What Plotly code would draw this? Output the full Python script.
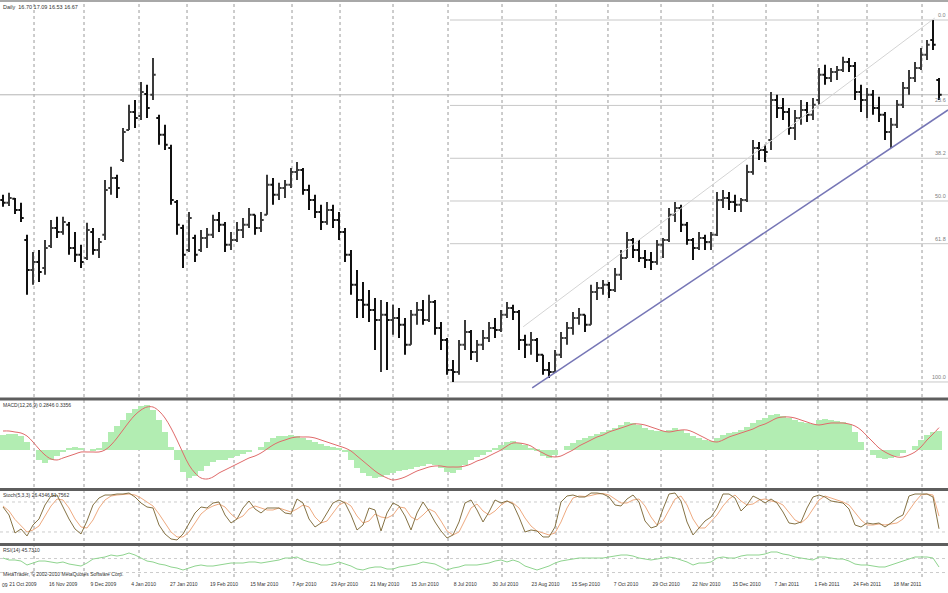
import plotly.graph_objects as go

# ---------------- data ----------------
opens = [14.00, 13.93, 14.03, 13.75, 13.00, 12.25, 12.45, 12.30, 12.85, 13.30, 13.20, 13.38, 12.80, 12.63, 12.55, 13.20, 12.75, 13.13, 14.30, 14.55,
         15.00, 15.75, 16.20, 16.10, 16.65, 16.63, 16.05, 15.63, 15.30, 13.95, 13.30, 12.75, 13.05, 12.75, 13.05, 13.13, 13.50, 13.38, 12.88, 13.00,
         13.25, 13.38, 13.63, 13.30, 13.63, 14.38, 14.13, 14.30, 14.38, 14.70, 14.75, 14.25, 14.00, 13.70, 13.45, 13.75, 13.50, 13.20, 12.63, 11.88,
         11.50, 11.38, 11.25, 11.00, 11.13, 11.00, 11.05, 10.88, 10.38, 11.13, 11.25, 11.00, 11.45, 10.80, 10.50, 9.75, 9.70, 10.38, 10.70, 10.20,
         10.38, 10.55, 10.80, 10.75, 11.13, 11.30, 11.20, 10.50, 10.38, 10.50, 10.13, 9.75, 9.70, 10.13, 10.55, 10.80, 11.05, 11.13, 10.88, 11.70,
         11.80, 11.88, 11.75, 12.13, 12.55, 13.00, 12.75, 12.55, 12.50, 12.45, 12.88, 13.00, 13.63, 13.80, 13.38, 13.00, 12.80, 13.05, 12.95, 13.13,
         14.00, 14.05, 13.95, 13.88, 14.00, 14.70, 15.30, 15.25, 15.50, 16.50, 16.30, 16.20, 15.80, 16.05, 16.25, 16.13, 16.50, 17.13, 17.05, 17.20,
         17.25, 17.45, 17.35, 16.70, 16.50, 16.63, 16.30, 16.13, 15.70, 15.88, 16.38, 16.80, 17.05, 17.30, 17.63, 18.00, 17.00]
highs = [14.13, 14.18, 14.05, 13.93, 13.13, 12.70, 12.75, 13.00, 13.50, 13.58, 13.58, 13.45, 13.20, 12.88, 13.43, 13.30, 13.05, 14.50, 14.83, 14.63,
         15.80, 16.38, 16.50, 16.95, 16.88, 17.55, 16.13, 15.88, 15.38, 14.00, 13.38, 13.70, 13.13, 13.25, 13.30, 13.63, 13.70, 13.45, 13.20, 13.45,
         13.55, 13.80, 13.63, 13.70, 14.63, 14.55, 14.43, 14.50, 14.80, 14.95, 14.80, 14.38, 14.13, 13.88, 13.95, 13.88, 13.70, 13.30, 12.75, 12.25,
         11.95, 11.75, 11.55, 11.50, 11.45, 11.38, 11.30, 11.05, 11.25, 11.45, 11.50, 11.63, 11.50, 10.95, 10.55, 10.00, 10.50, 11.00, 10.75, 10.50,
         10.75, 10.95, 11.05, 11.25, 11.45, 11.38, 11.25, 10.63, 10.70, 10.55, 10.13, 9.95, 10.25, 10.70, 10.95, 11.20, 11.30, 11.13, 11.88, 11.95,
         12.00, 11.95, 12.30, 12.75, 13.20, 13.05, 13.00, 12.75, 12.70, 13.00, 13.05, 13.80, 13.95, 13.88, 13.45, 13.05, 13.20, 13.13, 13.20, 14.20,
         14.25, 14.20, 14.13, 14.05, 14.88, 15.50, 15.45, 15.38, 16.70, 16.63, 16.55, 16.30, 16.25, 16.50, 16.45, 16.55, 17.30, 17.38, 17.30, 17.35,
         17.58, 17.55, 17.45, 16.88, 16.80, 16.75, 16.58, 16.20, 16.05, 16.50, 16.95, 17.25, 17.45, 17.80, 18.00, 18.50, 17.05]
lows = [13.83, 13.85, 13.65, 13.45, 11.63, 11.88, 11.95, 12.13, 12.80, 13.05, 13.13, 12.63, 12.45, 12.30, 12.50, 12.63, 12.55, 13.00, 14.13, 14.05,
        14.95, 15.75, 15.80, 16.00, 16.05, 16.50, 15.38, 15.25, 13.88, 13.13, 12.30, 12.70, 12.45, 12.70, 12.80, 13.05, 13.20, 12.70, 12.75, 12.95,
        13.05, 13.30, 13.13, 13.20, 13.63, 13.88, 14.00, 14.05, 14.30, 14.50, 14.13, 13.75, 13.55, 13.25, 13.38, 13.30, 13.00, 12.45, 11.63, 11.05,
        11.05, 10.95, 10.25, 9.70, 9.75, 10.63, 10.55, 10.13, 10.38, 10.88, 10.88, 10.95, 10.63, 10.25, 9.63, 9.45, 9.63, 10.25, 10.00, 9.95,
        10.25, 10.45, 10.55, 10.70, 11.05, 11.00, 10.25, 10.05, 10.13, 9.95, 9.63, 9.55, 9.70, 10.05, 10.38, 10.63, 10.88, 10.70, 10.88, 11.50,
        11.63, 11.55, 11.70, 12.00, 12.55, 12.55, 12.45, 12.30, 12.25, 12.38, 12.55, 12.95, 13.45, 13.20, 12.88, 12.50, 12.75, 12.75, 12.75, 13.10,
        13.80, 13.75, 13.70, 13.70, 13.95, 14.63, 15.00, 14.95, 15.25, 16.05, 16.00, 15.63, 15.50, 15.88, 15.95, 16.00, 16.38, 16.88, 16.95, 17.00,
        17.20, 17.20, 16.50, 16.20, 16.05, 16.13, 15.95, 15.50, 15.30, 15.80, 16.30, 16.63, 16.95, 17.25, 17.50, 17.75, 16.50]
closes = [13.93, 14.05, 13.75, 13.55, 12.25, 12.45, 12.20, 12.80, 13.30, 13.20, 13.45, 12.80, 12.63, 12.45, 13.25, 12.75, 12.95, 14.25, 14.55, 14.30,
          15.70, 16.20, 16.05, 16.70, 16.30, 17.13, 15.63, 15.38, 14.00, 13.38, 12.63, 13.55, 12.63, 13.05, 13.13, 13.50, 13.38, 12.88, 13.00, 13.25,
          13.38, 13.63, 13.30, 13.50, 14.38, 14.13, 14.30, 14.38, 14.70, 14.75, 14.25, 14.00, 13.70, 13.45, 13.75, 13.50, 13.20, 12.63, 11.88, 11.50,
          11.38, 11.25, 11.00, 11.13, 11.00, 11.05, 10.88, 10.38, 11.13, 11.25, 11.00, 11.45, 10.80, 10.50, 9.75, 9.70, 10.38, 10.70, 10.20, 10.38,
          10.55, 10.80, 10.75, 11.13, 11.30, 11.20, 10.50, 10.38, 10.50, 10.13, 9.75, 9.70, 10.13, 10.55, 10.80, 11.05, 11.13, 10.88, 11.70, 11.80,
          11.88, 11.75, 12.13, 12.55, 13.00, 12.75, 12.55, 12.50, 12.45, 12.88, 13.00, 13.63, 13.80, 13.38, 13.00, 12.80, 13.05, 12.95, 13.13, 14.00,
          14.05, 13.95, 13.88, 14.00, 14.70, 15.30, 15.25, 15.20, 16.50, 16.30, 16.20, 15.80, 16.05, 16.25, 16.13, 16.38, 17.13, 17.05, 17.20, 17.25,
          17.45, 17.35, 16.70, 16.50, 16.63, 16.30, 16.13, 15.70, 15.88, 16.38, 16.80, 17.05, 17.30, 17.63, 17.88, 17.88, 16.63]

macd_hist = [0.225, 0.24, 0.24, 0.21, 0.12, 0.0, -0.15, -0.195, -0.15, -0.09, -0.03, 0.015, 0.045, 0.03, 0.0, -0.015, 0.015, 0.12, 0.27, 0.36,
             0.45, 0.555, 0.615, 0.66, 0.675, 0.60, 0.45, 0.27, 0.045, -0.15, -0.33, -0.42, -0.39, -0.315, -0.24, -0.18, -0.15, -0.15, -0.12, -0.09,
             -0.06, -0.03, 0.0, 0.045, 0.12, 0.18, 0.21, 0.21, 0.225, 0.21, 0.18, 0.15, 0.12, 0.09, 0.06, 0.045, 0.015, -0.03, -0.15, -0.27,
             -0.345, -0.39, -0.42, -0.405, -0.375, -0.345, -0.315, -0.30, -0.285, -0.255, -0.24, -0.21, -0.225, -0.27, -0.33, -0.345, -0.30, -0.225, -0.15, -0.105,
             -0.075, -0.03, 0.015, 0.075, 0.12, 0.135, 0.105, 0.075, 0.03, -0.015, -0.09, -0.12, -0.075, 0.0, 0.06, 0.105, 0.15, 0.18, 0.21, 0.24,
             0.27, 0.30, 0.33, 0.375, 0.42, 0.405, 0.375, 0.33, 0.30, 0.285, 0.285, 0.30, 0.33, 0.30, 0.255, 0.21, 0.18, 0.15, 0.135, 0.18,
             0.225, 0.255, 0.27, 0.30, 0.345, 0.405, 0.45, 0.48, 0.525, 0.54, 0.51, 0.48, 0.45, 0.42, 0.405, 0.39, 0.45, 0.465, 0.45, 0.435,
             0.42, 0.39, 0.27, 0.12, 0.0, -0.075, -0.12, -0.135, -0.12, -0.09, -0.045, 0.0, 0.06, 0.15, 0.225, 0.27, 0.2846]
macd_signal = [0.285, 0.285, 0.27, 0.255, 0.21, 0.12, 0.015, -0.075, -0.135, -0.15, -0.12, -0.09, -0.06, -0.03, -0.03, -0.03, -0.03, 0.0, 0.075, 0.18,
               0.30, 0.42, 0.525, 0.60, 0.645, 0.645, 0.585, 0.48, 0.33, 0.15, -0.045, -0.225, -0.345, -0.42, -0.435, -0.405, -0.345, -0.30, -0.255, -0.21,
               -0.165, -0.12, -0.09, -0.045, 0.015, 0.075, 0.12, 0.15, 0.18, 0.195, 0.195, 0.195, 0.18, 0.15, 0.12, 0.09, 0.06, 0.03, -0.015, -0.09,
               -0.165, -0.24, -0.315, -0.375, -0.42, -0.45, -0.435, -0.405, -0.36, -0.315, -0.285, -0.255, -0.24, -0.24, -0.255, -0.255, -0.255, -0.24, -0.21, -0.165,
               -0.135, -0.09, -0.045, 0.0, 0.06, 0.105, 0.105, 0.09, 0.06, 0.0, -0.045, -0.09, -0.105, -0.09, -0.045, 0.0, 0.06, 0.105, 0.15, 0.195,
               0.225, 0.27, 0.30, 0.33, 0.36, 0.39, 0.39, 0.375, 0.345, 0.315, 0.285, 0.27, 0.285, 0.30, 0.30, 0.27, 0.225, 0.18, 0.135, 0.12,
               0.15, 0.195, 0.225, 0.255, 0.285, 0.315, 0.36, 0.39, 0.435, 0.48, 0.495, 0.495, 0.48, 0.45, 0.42, 0.39, 0.375, 0.39, 0.405, 0.405,
               0.405, 0.39, 0.36, 0.30, 0.21, 0.12, 0.03, -0.03, -0.075, -0.105, -0.105, -0.075, -0.03, 0.045, 0.15, 0.24, 0.3356]

stoch_main = [70, 54, 18, 26, 12, 34, 46, 74, 92, 94, 70, 46, 26, 16, 42, 74, 88, 94, 94, 96,
              96, 98, 90, 78, 70, 68, 34, 16, 6, 4, 16, 38, 58, 70, 68, 78, 80, 54, 38, 46,
              68, 82, 66, 58, 68, 68, 68, 58, 56, 86, 78, 46, 30, 38, 58, 78, 84, 78, 54, 24,
              34, 68, 64, 22, 58, 78, 72, 52, 24, 58, 80, 62, 40, 22, 8, 14, 40, 78, 84, 64,
              40, 60, 84, 78, 82, 76, 50, 20, 24, 22, 10, 10, 30, 80, 92, 94, 90, 90, 98, 98,
              96, 90, 74, 72, 86, 94, 80, 42, 28, 32, 66, 96, 98, 82, 40, 14, 28, 42, 50, 68,
              96, 96, 88, 62, 74, 92, 86, 78, 86, 78, 60, 38, 36, 40, 68, 90, 94, 90, 82, 80,
              78, 66, 34, 30, 38, 36, 38, 30, 38, 48, 54, 92, 96, 96, 96, 90, 26.43]
stoch_signal = [72, 62, 45, 32, 20, 24, 32, 52, 72, 86, 84, 68, 46, 30, 28, 44, 68, 84, 92, 94,
                95, 96, 94, 88, 80, 72, 56, 38, 20, 10, 10, 20, 38, 56, 66, 72, 76, 70, 56, 46,
                52, 66, 72, 68, 64, 64, 68, 64, 60, 66, 74, 70, 50, 38, 42, 58, 74, 80, 72, 52,
                38, 42, 56, 50, 48, 54, 70, 68, 50, 44, 54, 66, 60, 42, 22, 14, 20, 44, 68, 76,
                62, 54, 62, 74, 82, 78, 68, 48, 32, 22, 18, 14, 18, 40, 68, 88, 92, 91, 93, 96,
                97, 94, 86, 78, 78, 84, 86, 72, 50, 34, 42, 64, 86, 92, 74, 46, 28, 28, 40, 54,
                72, 86, 94, 82, 74, 76, 84, 86, 82, 80, 74, 58, 44, 38, 48, 66, 84, 92, 88, 84,
                80, 74, 58, 44, 34, 34, 36, 34, 36, 38, 46, 64, 80, 94, 96, 94, 51.76]

rsi = [71.5, 65.8, 65.8, 62.9, 51.5, 57.2, 62.9, 62.9, 60.1, 57.2, 60.1, 54.3, 51.5, 48.6, 57.2, 68.6, 71.5, 74.4, 80.1, 77.2,
       80.1, 85.8, 80.1, 71.5, 62.9, 60.1, 54.3, 51.5, 45.8, 42.9, 37.2, 42.9, 48.6, 51.5, 48.6, 48.6, 51.5, 54.3, 57.2, 57.2,
       57.2, 60.1, 60.1, 57.2, 60.1, 62.9, 65.8, 71.5, 71.5, 74.4, 65.8, 60.1, 57.2, 51.5, 51.5, 54.3, 60.1, 54.3, 48.6, 40.0,
       37.2, 42.9, 45.8, 45.8, 40.0, 40.0, 45.8, 48.6, 51.5, 54.3, 60.1, 57.2, 54.3, 45.8, 37.2, 42.9, 45.8, 51.5, 51.5, 51.5,
       54.3, 57.2, 62.9, 65.8, 60.1, 65.8, 60.1, 48.6, 42.9, 37.2, 42.9, 48.6, 57.2, 62.9, 65.8, 68.6, 71.5, 71.5, 71.5, 71.5,
       71.5, 74.4, 77.2, 80.1, 80.1, 77.2, 71.5, 68.6, 65.8, 68.6, 71.5, 74.4, 71.5, 65.8, 60.1, 51.5, 57.2, 57.2, 60.1, 71.5,
       74.4, 71.5, 71.5, 77.2, 80.1, 80.1, 80.1, 82.9, 88.7, 88.7, 82.9, 80.1, 74.4, 71.5, 68.6, 65.8, 74.4, 74.4, 71.5, 68.6,
       68.6, 62.9, 54.3, 51.5, 51.5, 48.6, 45.8, 45.8, 51.5, 57.2, 62.9, 68.6, 74.4, 74.4, 74.4, 71.5, 45.73]

date_labels = ["21 Oct 2009", "16 Nov 2009", "9 Dec 2009", "4 Jan 2010", "27 Jan 2010", "19 Feb 2010",
               "15 Mar 2010", "7 Apr 2010", "29 Apr 2010", "21 May 2010", "15 Jun 2010", "8 Jul 2010",
               "30 Jul 2010", "23 Aug 2010", "15 Sep 2010", "7 Oct 2010", "29 Oct 2010", "22 Nov 2010",
               "15 Dec 2010", "7 Jan 2011", "1 Feb 2011", "24 Feb 2011", "18 Mar 2011", "11 Apr 2011"]
date_label_pos = [3.33, 10.03, 16.73, 23.43, 30.13, 36.83, 43.53, 50.23, 56.93, 63.63, 70.33, 77.03,
                  83.73, 90.43, 97.13, 103.83, 110.53, 117.23, 123.93, 130.63, 137.33, 144.03, 150.73, 155.9]
grid_pos = [5.17, 13.5, 22.67, 30.67, 38.5, 48.17, 56.17, 65.0, 74.17, 83.17, 92.17, 100.83,
            109.67, 118.33, 127.17, 135.83, 144.0, 153.17]

# chart objects (anchors)
trend_x = [88.2, 157.5]
trend_y = [9.30, 16.25]
channel_x = [86.7, 155.3]
channel_y = [10.83, 18.55]
fib_start = 74.5
fib_low = 9.45
fib_high = 18.50
fib_ratios = [0.0, 23.6, 38.2, 50.0, 61.8, 100.0]

idx = list(range(len(closes)))
X_RANGE = [-0.5, len(closes) + 0.5]
FONT = "Liberation Sans"

fig = go.Figure()

fig.add_trace(go.Ohlc(
    x=idx, open=opens, high=highs, low=lows, close=closes,
    increasing=dict(line=dict(color="#3a3a3a", width=2)),
    decreasing=dict(line=dict(color="#111111", width=2)),
    tickwidth=0.45, xaxis="x", yaxis="y", hoverinfo="skip", showlegend=False))

fig.add_trace(go.Scatter(x=channel_x, y=channel_y, mode="lines", xaxis="x", yaxis="y",
                         line=dict(color="#d4d4d4", width=1), hoverinfo="skip", showlegend=False))
fig.add_trace(go.Scatter(x=trend_x, y=trend_y, mode="lines", xaxis="x", yaxis="y",
                         line=dict(color="#7676b6", width=1.5), hoverinfo="skip", showlegend=False))

fig.add_trace(go.Bar(x=idx, y=macd_hist, xaxis="x2", yaxis="y2", width=1.0,
                     marker=dict(color="#b2edb2", line=dict(width=0)), hoverinfo="skip", showlegend=False))
fig.add_trace(go.Scatter(x=idx, y=macd_signal, mode="lines", xaxis="x2", yaxis="y2",
                         line=dict(color="#e06a6a", width=1, shape="spline"), hoverinfo="skip", showlegend=False))

fig.add_trace(go.Scatter(x=idx, y=stoch_signal, mode="lines", xaxis="x3", yaxis="y3",
                         line=dict(color="#eeaa80", width=1), hoverinfo="skip", showlegend=False))
fig.add_trace(go.Scatter(x=idx, y=stoch_main, mode="lines", xaxis="x3", yaxis="y3",
                         line=dict(color="#857244", width=1), hoverinfo="skip", showlegend=False))

fig.add_trace(go.Scatter(x=idx, y=rsi, mode="lines", xaxis="x4", yaxis="y4",
                         line=dict(color="#8fd48f", width=1), hoverinfo="skip", showlegend=False))

shapes = []
# vertical dotted grid through all panels
for g in grid_pos:
    shapes.append(dict(type="line", xref="x", yref="paper", x0=g, x1=g, y0=0, y1=0.996,
                       line=dict(color="#9a9a9a", width=1, dash="dot"), layer="below"))
# fibonacci levels
for r in fib_ratios:
    lvl = fib_high - (fib_high - fib_low) * r / 100.0
    shapes.append(dict(type="line", xref="x", yref="y", x0=fib_start, x1=X_RANGE[1], y0=lvl, y1=lvl,
                       line=dict(color="#c8c8c8", width=1), layer="below"))
# bid line at last close
shapes.append(dict(type="line", xref="paper", yref="y", x0=0, x1=1, y0=closes[-1], y1=closes[-1],
                   line=dict(color="#b4b4b4", width=1), layer="below"))
# indicator levels
for lv in (20, 80):
    shapes.append(dict(type="line", xref="paper", yref="y3", x0=0, x1=1, y0=lv, y1=lv,
                       line=dict(color="#cccccc", width=1, dash="dot"), layer="below"))
for lv in (30, 70):
    shapes.append(dict(type="line", xref="paper", yref="y4", x0=0, x1=1, y0=lv, y1=lv,
                       line=dict(color="#cccccc", width=1, dash="dot"), layer="below"))
# panel separators
for py, col, w in ((0.9985, "#a8a8a8", 2.5), (0.3085, "#5e5e5e", 3), (0.1516, "#5e5e5e", 3), (0.0563, "#5e5e5e", 3)):
    shapes.append(dict(type="line", xref="paper", yref="paper", x0=0, x1=1, y0=py, y1=py,
                       line=dict(color=col, width=w), layer="above"))

annotations = []
for r in fib_ratios:
    lvl = fib_high - (fib_high - fib_low) * r / 100.0
    annotations.append(dict(xref="paper", yref="y", x=1.0, y=lvl, xanchor="right", yanchor="bottom",
                            text=f"{r:.1f}", showarrow=False, font=dict(family=FONT, size=5.5, color="#808080")))

def header(text, yp, size=5.5, left_px=1):
    return dict(xref="paper", yref="paper", x=left_px / 948, y=yp, xanchor="left", yanchor="middle",
                text=text, showarrow=False, font=dict(family=FONT, size=size, color="#333333"))

annotations += [
    header("Daily  16.70 17.09 16.53 16.67", 0.9879),
    header("MACD(12,26,9) 0.2846 0.3356", 0.2981, 5),
    header("Stoch(5,3,3) 26.4346 51.7562", 0.1421, 5),
    header("RSI(14) 45.7310", 0.0470, 5),
    header("MetaTrader, © 2002-2010 MetaQuotes Software Corp.", 0.0055, 5),
    header("09", -0.0139, 5, left_px=0),
]

axis_common = dict(showgrid=False, zeroline=False, showline=False, range=X_RANGE, autorange=False)
fig.update_layout(
    width=948, height=593,
    margin=dict(l=0, r=0, t=0, b=16),
    paper_bgcolor="white", plot_bgcolor="white",
    bargap=0, showlegend=False, hovermode=False,
    xaxis=dict(domain=[0, 1], anchor="y", showticklabels=False, rangeslider=dict(visible=False), **axis_common),
    xaxis2=dict(domain=[0, 1], anchor="y2", matches="x", showticklabels=False, **axis_common),
    xaxis3=dict(domain=[0, 1], anchor="y3", matches="x", showticklabels=False, **axis_common),
    xaxis4=dict(domain=[0, 1], anchor="y4", matches="x", showticklabels=True, ticks="",
                tickmode="array", tickvals=date_label_pos, ticktext=date_labels, tickangle=0,
                ticklabelstandoff=3,
                tickfont=dict(family=FONT, size=5, color="#333333"), **axis_common),
    yaxis=dict(domain=[0.3120, 0.9948], range=[9.075, 18.925], autorange=False,
               showticklabels=False, showgrid=False, zeroline=False),
    yaxis2=dict(domain=[0.1560, 0.3050], range=[-0.555, 0.735], autorange=False,
                showticklabels=False, showgrid=False, zeroline=False),
    yaxis3=dict(domain=[0.0607, 0.1473], range=[0, 100], autorange=False,
                showticklabels=False, showgrid=False, zeroline=False),
    yaxis4=dict(domain=[0.0, 0.0520], range=[17.2, 103], autorange=False,
                showticklabels=False, showgrid=False, zeroline=False),
    shapes=shapes, annotations=annotations,
)

fig.write_html("out.html", config={"displayModeBar": False},
               post_script="document.body.style.margin='0';document.body.style.overflow='hidden';")
